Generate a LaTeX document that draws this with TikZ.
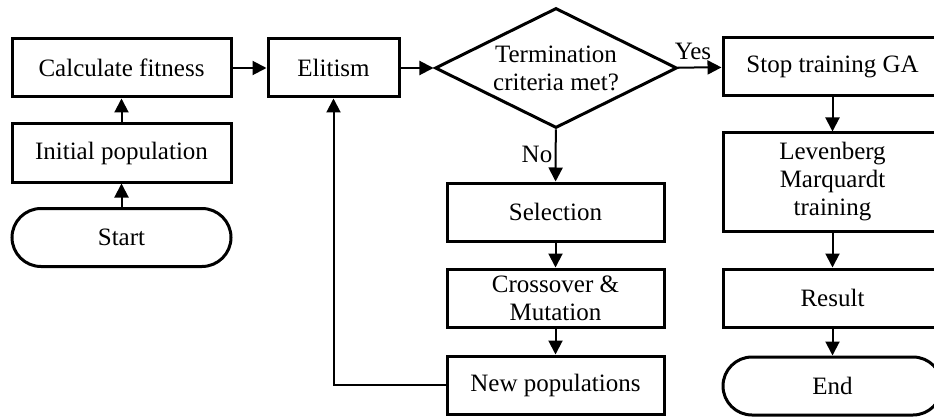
\documentclass[tikz,border=0pt]{standalone}
\usepackage{fontspec}
\setmainfont{Liberation Serif}
\usetikzlibrary{shapes.geometric,arrows.meta}
\begin{document}
\begin{tikzpicture}[x=1pt,y=-1pt,
  txt/.style={font=\fontsize{25}{28}\selectfont},
  box/.style={draw,line width=3pt,minimum width=219pt,minimum height=58pt,inner sep=0pt,align=center,txt},
  term/.style={box,rounded corners=29pt},
  dec/.style={draw,line width=3pt,diamond,aspect=2,minimum width=242pt,minimum height=120pt,inner sep=0pt,align=center,txt},
  arr/.style={line width=2pt,-{Triangle[length=14pt,width=14pt]}},
  lbl/.style={inner sep=0pt,txt}]
\useasboundingbox (0,0) rectangle (934,417);
\fill[white] (0,0) rectangle (934,417);
% left column
\node[box] (calc) at (121.5,68) {Calculate fitness};
\node[box] (init) at (121.5,153) {Initial population};
\node[term] (start) at (121.5,237.5) {Start};
% elitism
\node[box,minimum width=131pt] (elit) at (333.5,68) {Elitism};
% decision
\node[dec] (term) at (556,68) {Termination\\criteria met?};
% middle column
\node[box,minimum width=217pt] (sel) at (555.5,212) {Selection};
\node[box,minimum width=217pt] (cross) at (555.5,298) {Crossover \&\\Mutation};
\node[box,minimum width=217pt] (newp) at (555.5,385) {New populations};
% right column
\node[box] (stop) at (832.5,67) {Stop training GA};
\node[box,minimum height=98pt] (lev) at (832.5,182) {Levenberg\\Marquardt\\training};
\node[box] (res) at (832.5,298) {Result};
\node[term] (end) at (832.5,386) {End};
% connectors
\draw[arr] (start) -- (init);
\draw[arr] (init) -- (calc);
\draw[arr] (calc) -- (elit);
\draw[arr] (elit) -- (term);
\draw[arr] (term) -- (stop);
\draw[arr] (term) -- (sel);
\draw[arr] (sel) -- (cross);
\draw[arr] (cross) -- (newp);
\draw[arr] (newp.west) -| (elit.south);
\draw[arr] (stop) -- (lev);
\draw[arr] (lev) -- (res);
\draw[arr] (res) -- (end);
% labels
\node[lbl] (yes) at (693,51) {Yes};
\node[lbl] (no) at (537,154) {No};
\end{tikzpicture}
\end{document}
